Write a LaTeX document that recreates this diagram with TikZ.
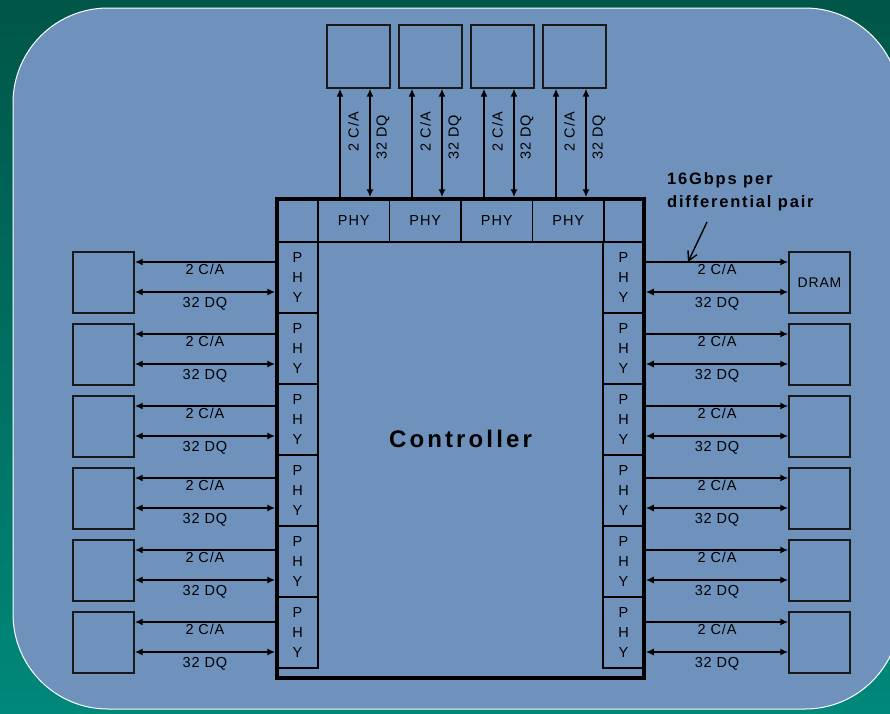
\documentclass[tikz,border=0pt]{standalone}
\usepackage{fontspec}
\setmainfont{Liberation Sans}[LetterSpace=6]
\usetikzlibrary{arrows.meta, positioning}
\definecolor{panelblue}{RGB}{111,146,189}
\definecolor{tealdark}{RGB}{0,86,72}
\definecolor{teallight}{RGB}{0,136,122}
\tikzstyle{dram} = [rectangle,
draw=black!90,
line width=1.4pt,
minimum width=61pt,
minimum height=61pt,
inner sep=0pt,
font=\fontsize{14}{16}\selectfont]
\tikzstyle{sidephy} = [rectangle,
draw=black,
line width=1.3pt,
minimum width=41pt,
minimum height=71pt,
inner sep=0pt,
align=center,
font=\fontsize{14.5}{20}\selectfont]
\tikzstyle{topphy} = [rectangle,
draw=black,
line width=1.3pt,
minimum width=71.5pt,
minimum height=43pt,
inner sep=0pt,
font=\fontsize{14.5}{16}\selectfont]
\tikzstyle{controller} = [rectangle,
draw=black,
line width=3.5pt,
minimum width=367pt,
minimum height=479pt,
font=\bfseries\fontsize{24}{28}\selectfont\addfontfeatures{LetterSpace=13}]
\tikzstyle{bus} = [line width=1.8pt, black]
\tikzstyle{lbl} = [inner sep=1.5pt,
font=\fontsize{14.5}{16}\selectfont]
\tikzstyle{notetext} = [inner sep=0pt,
align=left,
font=\bfseries\fontsize{16.5}{23}\selectfont\addfontfeatures{LetterSpace=11}]

\begin{document}
\begin{tikzpicture}[x=1pt, y=-1pt,
    >={Latex[length=8pt,width=7pt]}
    ]
    \useasboundingbox (0,0) rectangle (890,713);
    \shade[top color=tealdark, bottom color=teallight] (0,0) rectangle (890,713);
    \draw[white, line width=1pt, fill=panelblue, rounded corners=95pt] (13,8) rectangle (900,709);
    
    % controller with its ring of PHYs
    \node (ctrl) [controller] at (460.5,438.5) {Controller};
    \foreach \i in {0,...,5} {
        \node (lphy\i) [sidephy] at (297.5,{277.5+71*\i}) {P\\H\\Y};
        \node (rphy\i) [sidephy] at (623.5,{277.5+71*\i}) {P\\H\\Y};
    }
    \foreach \j in {0,...,3}
        \node (tphy\j) [topphy] at ({353.75+71.5*\j},220.5) {PHY};
    
    % DRAMs
    \node (rdram0) [dram] at (819.5,282.5) {DRAM};
    \foreach \i in {0,...,5}
        \node (ldram\i) [dram] at (103.5,{282.5+72*\i}) {};
    \foreach \i in {1,...,5}
        \node (rdram\i) [dram] at (819.5,{282.5+72*\i}) {};
    \foreach \j in {0,...,3}
        \node (tdram\j) [dram, minimum size=63pt] at ({358.5+72*\j},56.5) {};
    
    % side buses
    \foreach \i in {0,...,5} {
        \coordinate (lca\i) at ([yshift=20.5pt]ldram\i.east);
        \coordinate (ldq\i) at ([yshift=-9.5pt]ldram\i.east);
        \coordinate (rca\i) at ([yshift=20.5pt]rdram\i.west);
        \coordinate (rdq\i) at ([yshift=-9.5pt]rdram\i.west);
        \draw[bus,->] (lca\i -| ctrl.west) -- (lca\i) node[lbl, midway, below] {2 C/A};
        \draw[bus,<->] (ldq\i -| ctrl.west) -- (ldq\i) node[lbl, midway, below=3pt] {32 DQ};
        \draw[bus,->] (rca\i -| ctrl.east) -- (rca\i) node[lbl, midway, below] {2 C/A};
        \draw[bus,<->] (rdq\i -| ctrl.east) -- (rdq\i) node[lbl, midway, below=3pt] {32 DQ};
    }
    
    % top buses
    \foreach \j in {0,...,3} {
        \coordinate (tca\j) at ([xshift=-18.5pt]tdram\j.south);
        \coordinate (tdq\j) at ([xshift=11.5pt]tdram\j.south);
        \draw[bus,->] (tca\j |- ctrl.north) -- (tca\j);
        \draw[bus,<->] (tdq\j |- ctrl.north) -- (tdq\j);
        \node (tcal\j) [lbl, rotate=90] at ([xshift=-5pt,yshift=-43pt]tdram\j.south) {2 C/A};
        \node (tdql\j) [lbl, rotate=90] at ([xshift=24.5pt,yshift=-48.5pt]tdram\j.south) {32 DQ};
    }
    
    % annotation
    \node (note) [notetext, anchor=north west] at (667,172.5) {16Gbps per\\differential pair};
    \coordinate (notetail) at (707,222);
    \coordinate (notetip) at (688,262);
    \draw[line width=1.4pt, -{Straight Barb[length=9pt,width=10pt]}] (notetail) -- (notetip);
    
\end{tikzpicture}
\end{document}
